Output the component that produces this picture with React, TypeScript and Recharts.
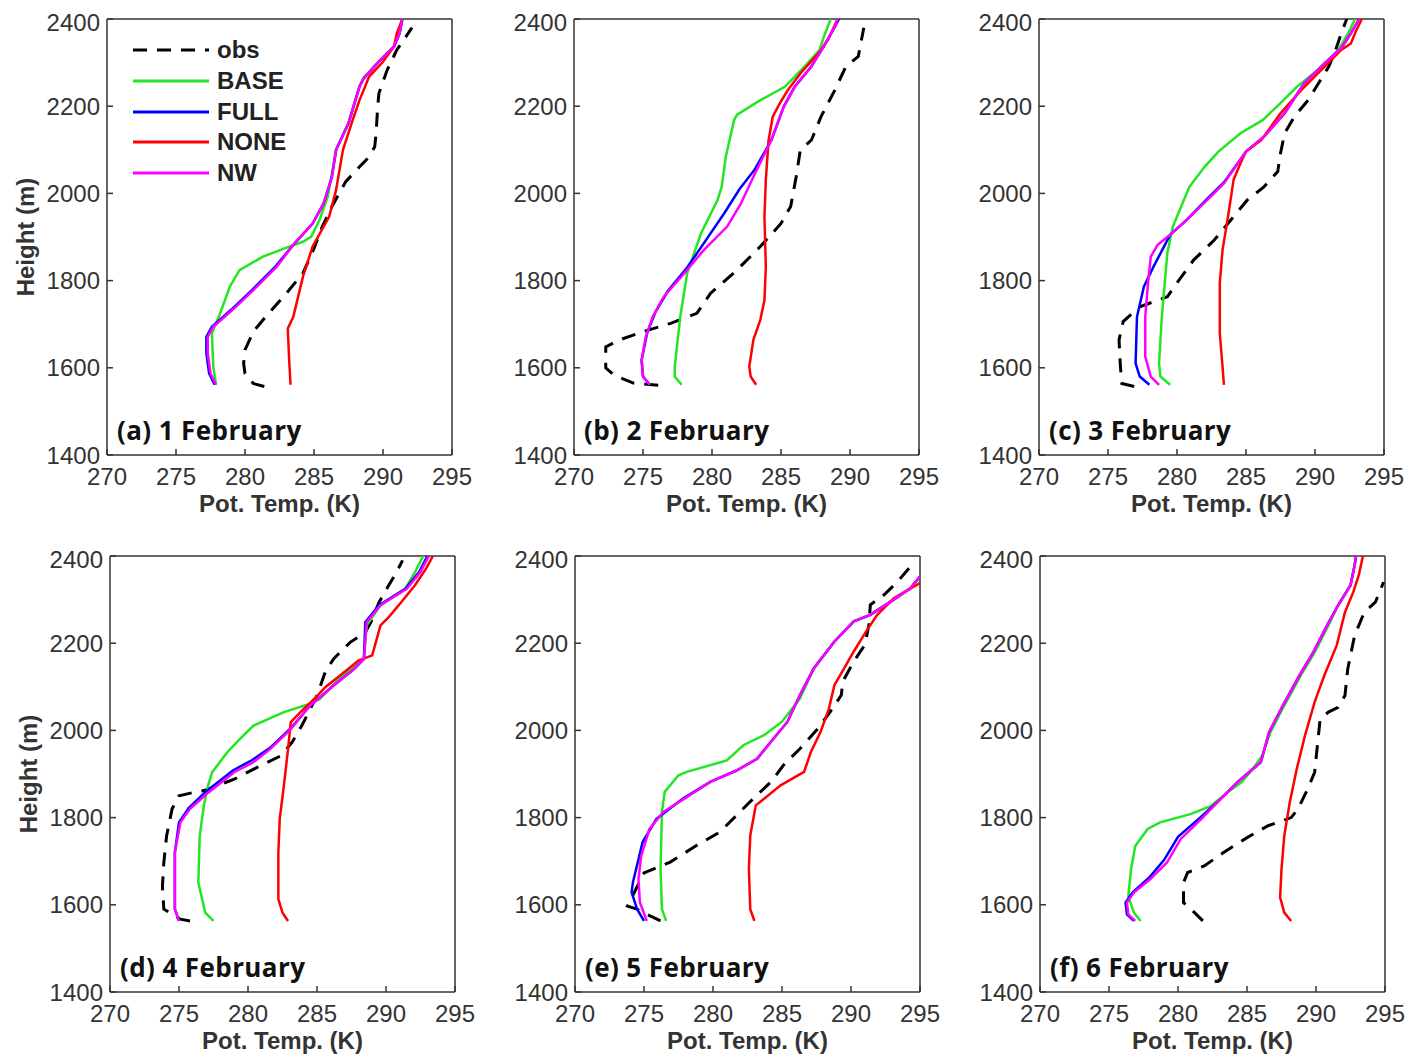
import React from 'react'
import { ScatterChart, Scatter, XAxis, YAxis, Legend } from 'recharts'

type Pt = [number, number]

const X_TICKS = [270, 275, 280, 285, 290, 295]
const Y_TICKS = [1400, 1600, 1800, 2000, 2200, 2400]
const SERIES_NAMES = ['obs', 'BASE', 'FULL', 'NONE', 'NW']
const SERIES_COLORS = ['#000000', '#22e622', '#0000ff', '#ff0000', '#ff00ff']
const PANEL_TITLES = ['(a) 1 February', '(b) 2 February', '(c) 3 February', '(d) 4 February', '(e) 5 February', '(f) 6 February']

// (a) 1 February
const obsA: Pt[] = [[281.4,1557],[280.6,1564],[280.0,1587],[279.9,1610],[280.0,1641],[280.6,1683],[281.5,1717],[283.0,1771],[284.2,1817],[285.0,1874],[285.6,1924],[286.3,1970],[287.3,2027],[288.3,2061],[289.0,2084],[289.4,2107],[289.5,2138],[289.6,2191],[289.7,2229],[290.3,2283],[291.0,2329],[292.1,2380]]
const baseA: Pt[] = [[277.9,1561],[277.7,1603],[277.6,1679],[278.2,1725],[278.9,1786],[279.6,1824],[281.3,1855],[283.2,1878],[284.2,1889],[284.8,1901],[285.4,1939],[286.0,1993],[286.6,2100],[287.5,2161],[288.3,2245],[288.6,2264],[289.7,2302],[290.8,2337],[291.2,2367],[291.4,2400]]
const fullA: Pt[] = [[277.8,1561],[277.4,1587],[277.2,1633],[277.2,1671],[277.6,1694],[279.0,1733],[280.5,1778],[282.2,1832],[283.5,1882],[284.9,1931],[285.7,1977],[286.3,2038],[286.6,2100],[287.5,2161],[288.3,2245],[288.6,2264],[289.7,2302],[290.8,2337],[291.2,2367],[291.4,2400]]
const noneA: Pt[] = [[283.3,1561],[283.2,1618],[283.1,1690],[283.5,1717],[284.2,1809],[284.9,1878],[286.1,1947],[286.6,2008],[287.1,2100],[287.8,2168],[288.3,2214],[289.0,2268],[290.0,2302],[290.8,2337],[291.0,2367],[291.4,2400]]
const nwA: Pt[] = [[277.9,1561],[277.5,1587],[277.3,1633],[277.3,1671],[277.7,1694],[279.1,1733],[280.6,1778],[282.3,1832],[283.5,1882],[284.9,1931],[285.7,1977],[286.3,2038],[286.6,2100],[287.5,2161],[288.3,2245],[288.6,2264],[289.7,2302],[290.8,2337],[291.2,2367],[291.4,2400]]

// (b) 2 February
const obsB: Pt[] = [[276.1,1560],[274.3,1565],[272.9,1583],[272.3,1600],[272.3,1648],[273.3,1664],[275.0,1683],[277.0,1702],[278.9,1725],[279.9,1771],[281.8,1824],[283.5,1878],[285.0,1931],[285.7,1970],[286.1,2038],[286.4,2100],[287.2,2122],[287.9,2176],[288.9,2237],[289.7,2291],[290.6,2314],[291.0,2380]]
const baseB: Pt[] = [[277.8,1561],[277.3,1580],[277.3,1603],[277.7,1717],[278.2,1817],[279.2,1908],[280.4,1985],[280.7,2015],[281.0,2084],[281.6,2168],[281.8,2180],[283.3,2210],[285.3,2245],[286.7,2291],[287.8,2329],[288.1,2359],[288.6,2400]]
const fullB: Pt[] = [[275.5,1561],[275.0,1580],[274.9,1618],[275.3,1680],[275.9,1728],[276.8,1776],[278.2,1830],[279.5,1890],[280.9,1955],[282.0,2010],[283.1,2055],[284.3,2122],[285.2,2199],[286.0,2245],[287.2,2291],[288.1,2337],[288.9,2382],[289.2,2400]]
const noneB: Pt[] = [[283.2,1561],[282.8,1580],[282.7,1603],[283.0,1664],[283.5,1710],[283.8,1755],[283.9,1832],[283.8,1947],[283.9,2031],[284.1,2122],[284.4,2176],[284.9,2206],[285.5,2237],[286.4,2275],[287.7,2321],[288.4,2352],[289.1,2400]]
const nwB: Pt[] = [[275.5,1561],[275.0,1580],[274.9,1618],[275.2,1671],[275.7,1717],[276.5,1763],[278.0,1817],[279.4,1870],[281.1,1924],[282.1,1977],[283.0,2038],[284.3,2122],[285.2,2199],[286.0,2245],[287.2,2291],[288.1,2337],[288.9,2382],[289.1,2400]]

// (c) 3 February
const obsC: Pt[] = [[276.9,1557],[276.0,1564],[275.9,1603],[275.8,1664],[276.1,1706],[277.3,1740],[279.3,1763],[279.8,1786],[281.2,1847],[282.7,1893],[283.9,1939],[285.1,1985],[286.3,2015],[287.3,2050],[287.5,2092],[287.8,2138],[288.5,2176],[289.5,2214],[290.4,2260],[291.0,2291],[291.5,2329],[291.9,2367],[292.3,2400]]
const baseC: Pt[] = [[279.5,1561],[278.8,1580],[278.7,1610],[278.9,1717],[279.3,1863],[279.7,1924],[280.3,1970],[280.9,2015],[282.0,2061],[283.0,2096],[284.6,2138],[286.2,2168],[287.5,2207],[288.7,2245],[290.2,2283],[291.7,2329],[292.4,2367],[292.9,2400]]
const fullC: Pt[] = [[278.0,1561],[277.3,1580],[277.0,1610],[277.1,1717],[277.6,1786],[278.3,1832],[279.5,1905],[280.8,1942],[282.2,1988],[283.4,2025],[285.0,2096],[286.3,2130],[287.8,2184],[289.2,2252],[290.7,2298],[291.9,2333],[292.6,2367],[293.2,2400]]
const noneC: Pt[] = [[283.4,1561],[283.3,1603],[283.1,1679],[283.1,1794],[283.3,1870],[283.7,1947],[284.1,2031],[284.6,2069],[285.0,2096],[286.1,2122],[287.5,2184],[289.0,2237],[290.7,2291],[291.9,2329],[292.6,2344],[293.0,2375],[293.4,2400]]
const nwC: Pt[] = [[278.7,1561],[278.1,1580],[277.7,1626],[277.7,1717],[277.9,1794],[278.1,1855],[278.6,1882],[279.5,1905],[280.7,1939],[282.2,1985],[283.4,2023],[285.0,2096],[286.3,2130],[287.8,2184],[289.2,2252],[290.7,2298],[291.9,2333],[292.6,2367],[293.2,2400]]

// (d) 4 February
const obsD: Pt[] = [[275.8,1563],[275.1,1567],[273.9,1590],[273.8,1643],[273.9,1697],[274.1,1758],[274.5,1820],[275.0,1850],[276.1,1858],[276.8,1862],[279.0,1888],[280.9,1919],[282.4,1942],[283.2,1973],[283.9,2011],[284.4,2042],[285.0,2080],[285.6,2134],[286.2,2164],[287.4,2202],[288.5,2225],[288.9,2248],[289.5,2294],[290.2,2333],[290.7,2359],[291.2,2390]]
const baseD: Pt[] = [[277.5,1563],[276.9,1582],[276.4,1651],[276.5,1758],[276.8,1827],[277.1,1873],[277.4,1904],[278.5,1950],[279.4,1980],[280.4,2011],[282.6,2042],[284.5,2061],[285.2,2072],[286.6,2118],[288.4,2164],[288.6,2241],[289.6,2287],[291.4,2325],[292.1,2363],[292.7,2400]]
const fullD: Pt[] = [[275.0,1563],[274.7,1590],[274.7,1720],[275.0,1789],[275.7,1822],[276.9,1858],[278.9,1908],[280.3,1932],[281.6,1960],[283.1,2005],[284.5,2057],[286.2,2103],[287.7,2141],[288.4,2164],[288.5,2248],[289.5,2287],[291.4,2325],[292.4,2363],[293.0,2400]]
const noneD: Pt[] = [[282.9,1563],[282.5,1582],[282.2,1613],[282.2,1720],[282.3,1797],[282.6,1873],[282.9,1957],[283.1,2019],[283.8,2042],[284.8,2072],[285.6,2099],[287.1,2137],[288.0,2160],[289.0,2172],[289.6,2241],[290.2,2260],[291.1,2294],[292.1,2333],[292.9,2371],[293.4,2400]]
const nwD: Pt[] = [[275.0,1563],[274.7,1590],[274.7,1720],[275.1,1789],[275.8,1820],[277.0,1854],[279.0,1904],[280.4,1927],[281.6,1957],[283.1,2003],[284.5,2057],[286.2,2103],[287.7,2141],[288.4,2164],[288.6,2248],[289.6,2287],[291.5,2325],[292.5,2363],[293.1,2400]]

// (e) 5 February
const obsE: Pt[] = [[276.2,1563],[275.4,1575],[274.5,1590],[273.8,1597],[275.0,1673],[276.9,1698],[278.8,1736],[280.5,1767],[281.7,1805],[282.9,1843],[284.2,1882],[285.1,1920],[286.3,1958],[287.6,2004],[288.5,2043],[289.3,2081],[289.4,2112],[290.2,2158],[291.0,2196],[291.3,2242],[291.4,2288],[292.4,2311],[293.4,2342],[294.2,2372]]
const baseE: Pt[] = [[276.6,1563],[276.3,1590],[276.2,1682],[276.3,1813],[276.5,1859],[277.5,1897],[278.1,1905],[281.0,1931],[282.2,1966],[283.7,1989],[285.0,2020],[286.3,2073],[287.3,2142],[288.8,2204],[290.2,2250],[291.4,2265],[292.9,2296],[294.3,2326],[295.0,2353]]
const fullE: Pt[] = [[275.0,1563],[274.5,1590],[274.1,1629],[274.2,1652],[274.9,1744],[275.9,1797],[277.8,1843],[279.8,1882],[281.7,1908],[283.2,1935],[284.2,1974],[285.4,2020],[286.3,2081],[287.3,2142],[288.8,2204],[290.2,2250],[291.4,2265],[292.9,2296],[294.3,2326],[295.0,2353]]
const noneE: Pt[] = [[283.0,1563],[282.7,1590],[282.6,1682],[282.7,1759],[283.1,1828],[283.7,1843],[284.9,1874],[286.6,1905],[287.1,1951],[287.8,1997],[288.4,2050],[288.8,2104],[289.5,2142],[290.2,2181],[291.1,2227],[291.9,2265],[293.1,2303],[295.0,2338]]
const nwE: Pt[] = [[275.2,1563],[274.7,1606],[274.6,1659],[274.8,1713],[275.4,1774],[276.4,1813],[277.9,1843],[279.8,1882],[281.7,1908],[283.2,1935],[284.2,1974],[285.4,2020],[286.3,2081],[287.3,2142],[288.8,2204],[290.2,2250],[291.4,2265],[292.9,2296],[294.3,2326],[295.0,2353]]

// (f) 6 February
const obsF: Pt[] = [[281.8,1563],[281.2,1582],[280.4,1605],[280.4,1651],[280.7,1674],[281.9,1689],[283.3,1720],[285.0,1754],[286.5,1781],[288.2,1800],[288.7,1820],[289.4,1866],[289.9,1904],[290.1,1965],[290.3,2026],[290.9,2042],[291.6,2053],[292.1,2080],[292.3,2141],[292.8,2218],[293.5,2271],[294.3,2294],[294.9,2340]]
const baseF: Pt[] = [[277.3,1563],[276.8,1582],[276.4,1620],[276.6,1682],[276.9,1735],[277.8,1774],[278.7,1789],[280.9,1808],[282.4,1827],[283.6,1858],[284.6,1881],[285.4,1911],[286.1,1942],[286.7,1996],[287.7,2057],[288.9,2126],[289.9,2179],[290.9,2241],[291.6,2287],[292.5,2333],[292.8,2379],[292.9,2400]]
const fullF: Pt[] = [[276.8,1563],[276.3,1578],[276.2,1605],[276.7,1628],[277.9,1662],[279.0,1703],[280.0,1756],[281.6,1800],[283.1,1843],[284.3,1881],[286.0,1927],[286.6,1996],[287.6,2057],[288.8,2126],[289.8,2179],[290.8,2241],[291.6,2287],[292.5,2333],[292.8,2379],[292.9,2400]]
const noneF: Pt[] = [[288.2,1563],[287.7,1582],[287.4,1617],[287.5,1682],[287.7,1758],[288.1,1835],[288.6,1911],[289.2,1988],[289.9,2065],[290.6,2126],[291.5,2195],[292.1,2271],[292.7,2317],[293.1,2356],[293.4,2400]]
const nwF: Pt[] = [[276.9,1563],[276.4,1578],[276.3,1605],[276.8,1628],[278.0,1659],[279.2,1697],[280.2,1751],[281.7,1797],[283.1,1843],[284.3,1881],[286.0,1927],[286.6,1996],[287.6,2057],[288.8,2126],[289.8,2179],[290.8,2241],[291.6,2287],[292.5,2333],[292.8,2379],[292.9,2400]]

const PANEL_DATA: Pt[][][] = [
  [obsA, baseA, fullA, noneA, nwA],
  [obsB, baseB, fullB, noneB, nwB],
  [obsC, baseC, fullC, noneC, nwC],
  [obsD, baseD, fullD, noneD, nwD],
  [obsE, baseE, fullE, noneE, nwE],
  [obsF, baseF, fullF, noneF, nwF],
]

// plot-area top-left corner of each panel on the page
const PANEL_POS = [[107, 19], [574, 19], [1039, 19], [110, 556], [575, 556], [1040, 556]]

const AXIS_STROKE = { stroke: '#333', strokeWidth: 1.5 }
const TICK_STYLE = { fill: '#333', fontSize: 24, fontFamily: 'Liberation Sans, Arial' }
const FONT = 'Liberation Sans, Arial, sans-serif'

const noDot = () => <g />

const yLabel = (p: any) => {
  const vb = p.viewBox
  const cx = vb.x + 13
  const cy = vb.y + vb.height / 2
  return (
    <text x={cx} y={cy} transform={`rotate(-90 ${cx} ${cy})`} textAnchor="middle" dominantBaseline="central"
      fill="#333" fontSize={24} fontWeight="bold" fontFamily={FONT}>Height (m)</text>
  )
}

const legendContent = () => (
  <div>
    {SERIES_NAMES.map((name, i) => (
      <div key={name} style={{ display: 'flex', alignItems: 'center', height: 30.8 }}>
        <svg width={76} height={6}>
          <line x1={0} y1={3} x2={76} y2={3} stroke={SERIES_COLORS[i]} strokeWidth={3}
            strokeDasharray={i === 0 ? '14 10' : undefined} />
        </svg>
        <span style={{ marginLeft: 8, fontFamily: FONT, fontWeight: 'bold', fontSize: 24, color: '#222' }}>{name}</span>
      </div>
    ))}
  </div>
)

function Panel({ idx }: { idx: number }) {
  const [left, top] = PANEL_POS[idx]
  const series = PANEL_DATA[idx]
  return (
    <>
      <div style={{ position: 'absolute', left: left - 100, top: top - 10 }}>
        <ScatterChart width={475} height={516} margin={{ top: 9, right: 29, bottom: 0, left: 5 }}>
          <XAxis type="number" dataKey="t" domain={[270, 295]} ticks={X_TICKS} allowDataOverflow
            height={70} tickSize={-6} tickMargin={19} tick={TICK_STYLE} axisLine={AXIS_STROKE} tickLine={AXIS_STROKE}
            label={{ value: 'Pot. Temp. (K)', position: 'insideBottom', offset: 13, fill: '#333', fontSize: 24, fontWeight: 'bold', fontFamily: FONT }} />
          <XAxis xAxisId="top" orientation="top" type="number" domain={[270, 295]} ticks={X_TICKS} allowDataOverflow
            height={1} tickSize={-6} tick={false} axisLine={AXIS_STROKE} tickLine={AXIS_STROKE} />
          <YAxis type="number" dataKey="h" domain={[1400, 2400]} ticks={Y_TICKS} allowDataOverflow
            width={95} tickSize={-6} tickMargin={13} tick={TICK_STYLE} axisLine={AXIS_STROKE} tickLine={AXIS_STROKE}
            label={idx % 3 === 0 ? { content: yLabel } : undefined} />
          <YAxis yAxisId="right" orientation="right" type="number" domain={[1400, 2400]} ticks={Y_TICKS} allowDataOverflow
            width={1} tickSize={-6} tick={false} axisLine={AXIS_STROKE} tickLine={AXIS_STROKE} />
          {idx === 0 && (
            <Legend layout="horizontal" verticalAlign="middle" align="center" content={legendContent}
              wrapperStyle={{ left: 126, top: 25.6, width: 'auto' }} />
          )}
          {series.map((pts, i) => (
            <Scatter key={SERIES_NAMES[i]} name={SERIES_NAMES[i]} data={pts.map(([t, h]) => ({ t, h }))}
              fill={SERIES_COLORS[i]} shape={noDot} lineType="joint" lineJointType="linear"
              line={{ stroke: SERIES_COLORS[i], strokeWidth: i === 0 ? 3 : 2.5, strokeDasharray: i === 0 ? '14 10' : undefined }}
              isAnimationActive={false} />
          ))}
        </ScatterChart>
      </div>
      <div style={{ position: 'absolute', left: left + 10, top: top + 398, fontFamily: '"Open Sans", sans-serif', fontWeight: 700, fontSize: 26, lineHeight: 1, color: '#111', whiteSpace: 'nowrap', letterSpacing: 0.4 }}>
        {PANEL_TITLES[idx]}
      </div>
    </>
  )
}

export default function App() {
  return (
    <div style={{ position: 'absolute', left: 0, top: 0, width: 1410, height: 1060, background: '#fff' }}>
      {PANEL_DATA.map((_, i) => <Panel key={i} idx={i} />)}
    </div>
  )
}
